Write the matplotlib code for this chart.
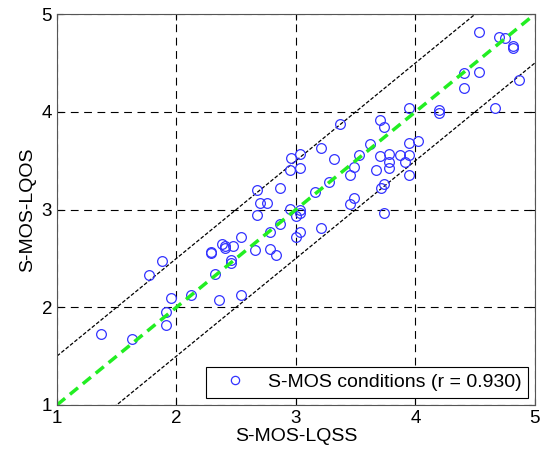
import numpy as np
import matplotlib
matplotlib.use('Agg')
from matplotlib import pyplot as plt

plt.rcParams['font.family'] = ['Liberation Sans', 'DejaVu Sans']

# S-MOS-LQSS (x) / S-MOS-LQOS (y) per condition
lqss = [1.37, 1.63, 1.88, 1.77, 1.95, 1.91, 1.91, 2.12, 2.29, 2.29,
        2.32, 2.36, 2.38, 2.41, 2.41, 2.47, 2.54, 2.46, 2.46, 2.54,
        2.66, 2.78, 2.78, 2.83, 2.87, 3.00, 3.00, 3.03, 2.96, 3.03,
        3.21, 2.95, 3.03, 2.67, 2.87, 2.70, 2.76, 2.67, 2.95, 3.03,
        3.16, 3.21, 3.03, 3.95, 3.70, 3.74, 3.37, 3.62, 3.95, 4.02,
        3.32, 3.53, 3.70, 3.78, 3.87, 3.95, 3.78, 3.78, 3.91, 3.49,
        3.67, 3.45, 3.95, 3.28, 3.74, 3.71, 3.49, 3.45, 3.74, 4.53,
        4.70, 4.75, 4.82, 4.82, 4.41, 4.53, 4.41, 4.87, 4.20, 4.20,
        4.67]
lqos = [1.73, 1.67, 2.47, 2.33, 2.09, 1.95, 1.82, 2.13, 2.57, 2.55,
        2.34, 2.07, 2.65, 2.63, 2.61, 2.63, 2.72, 2.48, 2.45, 2.12,
        2.59, 2.77, 2.60, 2.53, 2.85, 2.72, 2.93, 2.96, 3.53, 3.57,
        3.63, 3.40, 3.43, 3.20, 3.22, 3.07, 3.07, 2.94, 3.01, 3.00,
        3.18, 2.81, 2.77, 4.04, 3.92, 3.85, 3.88, 3.67, 3.68, 3.70,
        3.52, 3.56, 3.55, 3.57, 3.56, 3.56, 3.49, 3.43, 3.49, 3.44,
        3.40, 3.35, 3.35, 3.28, 3.26, 3.22, 3.12, 3.06, 2.96, 4.82,
        4.77, 4.76, 4.67, 4.65, 4.40, 4.41, 4.24, 4.33, 4.02, 3.99,
        4.04]
r_value = 0.930
band = 0.5
ticks = [1, 2, 3, 4, 5]

fig = plt.figure(figsize=(5.43, 4.57), dpi=100)
ax = fig.add_axes([0.105, 0.114, 0.880, 0.855])

line_x = np.array([1, 5])
ax.plot(line_x, line_x + band, color='black', lw=0.9, ls=(0, (3, 1.5)))
ax.plot(line_x, line_x - band, color='black', lw=0.9, ls=(0, (3, 1.5)))
ax.plot(lqss, lqos, 'o', mfc='none', mec='#3333ff', mew=0.9, ms=7,
        label='S-MOS conditions (r = %.3f)' % r_value)
ax.plot(line_x, line_x, color='#22ee22', lw=2.5, ls=(0, (3, 1.8)))

ax.set_xlim(1, 5)
ax.set_ylim(1, 5)
ax.set_xticks(ticks)
ax.set_yticks(ticks)
ax.grid(True, color='black', ls=(0, (7, 5)), lw=0.8)
ax.tick_params(direction='in', labelsize=13.5, top=True, right=True, length=4)
for s in ax.spines.values():
    s.set_color('#555555')

ax.set_xlabel('S-MOS-LQSS', fontsize=14, labelpad=1)
ax.set_ylabel('S-MOS-LQOS', fontsize=14, labelpad=4)

leg = ax.legend(loc='lower right', fontsize=14, fancybox=False,
                framealpha=1, edgecolor='black', handlelength=2.2,
                handletextpad=0.6, borderpad=0.35, borderaxespad=0.35,
                markerscale=0.85)
leg.get_frame().set_linewidth(0.8)

fig.savefig('out.png', dpi=100)
